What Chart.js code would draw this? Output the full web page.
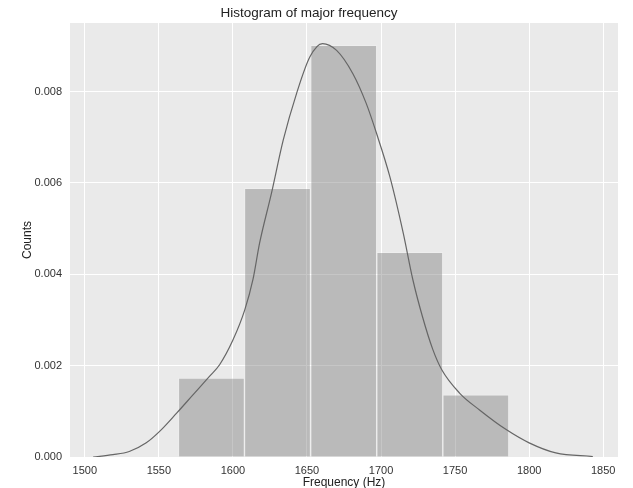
<!DOCTYPE html>
<html>
<head>
<meta charset="utf-8">
<script src="https://cdn.jsdelivr.net/npm/chart.js@4"></script>
<style>
  html, body { margin: 0; padding: 0; background: #fff; }
  #wrap { width: 633px; height: 488px; }
</style>
</head>
<body>
<div id="wrap"><canvas id="histChart"></canvas></div>
<script>
// histogram bins (density)
const binCenters = [1585.5, 1630.1, 1674.8, 1719.4, 1764.0];
const binDensity = [0.001727, 0.00588, 0.00901, 0.00448, 0.00136];

// kde curve points
const kdeX = [1505.6, 1519, 1530, 1541.5, 1550.5, 1562, 1573, 1584, 1591, 1600, 1608, 1613.5,
  1618, 1626, 1634, 1643, 1652, 1660.5, 1670, 1681, 1690, 1697, 1706, 1715, 1721.5, 1728,
  1735, 1741, 1753, 1766.5, 1784.5, 1800, 1818, 1843];
const kdeY = [0, 0.00005, 0.00012, 0.00031, 0.00056, 0.00096, 0.00136, 0.00176, 0.00202, 0.00256,
  0.00322, 0.00388, 0.00468, 0.00577, 0.00694, 0.00796, 0.00876, 0.00905, 0.0089, 0.00839,
  0.00774, 0.00708, 0.00613, 0.0049, 0.00388, 0.00307, 0.00235, 0.00191, 0.0014, 0.00103,
  0.0006, 0.00031, 0.00009, 0.00001];

const xTicks = [1500, 1550, 1600, 1650, 1700, 1750, 1800, 1850];
const yTicks = [0, 0.002, 0.004, 0.006, 0.008];

Chart.defaults.font.family = '"Liberation Sans", Arial, sans-serif';
Chart.defaults.color = '#333';

// grey panel behind the plot
const panelBg = {
  id: 'panelBg',
  beforeDraw(chart) {
    const { ctx, chartArea: a } = chart;
    ctx.save();
    ctx.fillStyle = '#eaeaea';
    ctx.fillRect(a.left, a.top, a.right - a.left, a.bottom - a.top);
    ctx.restore();
  }
};

const ctx = document.getElementById('histChart').getContext('2d');
const chart = new Chart(ctx, {
  type: 'bar',
  data: {
    datasets: [
      {
        type: 'line',
        data: kdeX.map((x, i) => ({ x: x, y: kdeY[i] })),
        borderColor: '#666',
        borderWidth: 1.2,
        pointRadius: 0,
        cubicInterpolationMode: 'monotone',
        fill: false,
        order: 0
      },
      {
        type: 'bar',
        data: binCenters.map((x, i) => ({ x: x, y: binDensity[i] })),
        backgroundColor: 'rgba(120,120,120,0.42)',
        borderColor: 'rgba(255,255,255,0.2)',
        borderWidth: 1,
        barPercentage: 1.0,
        categoryPercentage: 1.0,
        order: 1
      }
    ]
  },
  options: {
    responsive: true,
    maintainAspectRatio: false,
    animation: false,
    layout: { padding: { left: 0, right: 15, top: 0, bottom: 0 } },
    plugins: {
      legend: { display: false },
      tooltip: { enabled: false },
      title: {
        display: true,
        text: 'Histogram of major frequency',
        color: '#222',
        font: { size: 13.5, weight: 'normal' },
        padding: { top: 5, bottom: 1.8 }
      }
    },
    scales: {
      x: {
        type: 'linear',
        offset: false,
        min: 1490,
        max: 1860,
        afterFit: s => { s.height = 31; },
        afterBuildTicks: s => { s.ticks = xTicks.map(v => ({ value: v })); },
        ticks: { font: { size: 11 }, padding: 7, color: '#333', callback: v => String(v) },
        grid: { color: '#ffffff', lineWidth: 1, drawTicks: false, offset: false },
        border: { display: false },
        title: {
          display: true,
          text: 'Frequency (Hz)',
          color: '#222',
          font: { size: 12 },
          padding: { top: 0, bottom: -2 }
        }
      },
      y: {
        min: 0,
        max: 0.0095,
        afterFit: s => { s.width = 70; },
        afterBuildTicks: s => { s.ticks = yTicks.map(v => ({ value: v })); },
        ticks: {
          font: { size: 11 },
          padding: 8,
          color: '#333',
          callback: v => v.toFixed(3)
        },
        grid: { color: '#ffffff', lineWidth: 1, drawTicks: false },
        border: { display: false },
        title: {
          display: true,
          text: 'Counts',
          color: '#222',
          font: { size: 12 },
          padding: { top: 20, bottom: 0 }
        }
      }
    }
  },
  plugins: [panelBg]
});
</script>
</body>
</html>
